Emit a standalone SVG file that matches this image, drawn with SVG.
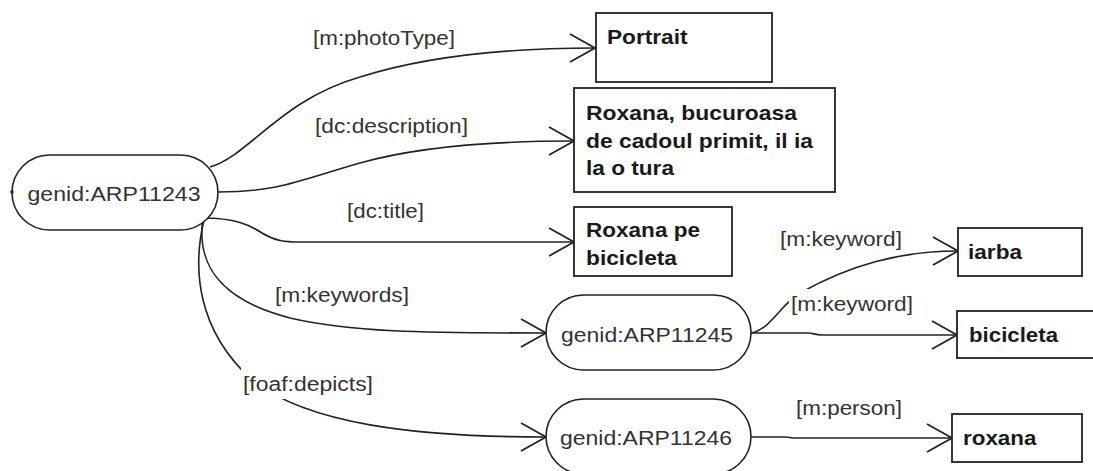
<svg xmlns="http://www.w3.org/2000/svg" width="1093" height="471" viewBox="0 0 1093 471">
  <style>
    .res { fill: #ffffff; stroke: #222222; stroke-width: 1.6; }
    .lit { fill: #ffffff; stroke: #222222; stroke-width: 1.8; }
    .res-t { font-family: "Liberation Sans", Arial, sans-serif; font-size: 20px; fill: #333333; }
    .lit-t { font-family: "Liberation Sans", Arial, sans-serif; font-size: 20.5px; font-weight: bold; fill: #1a1a1a; }
    .edge { fill: none; stroke: #222222; stroke-width: 1.6; marker-end: url(#open-arrow); }
    .lbl { font-family: "Liberation Sans", Arial, sans-serif; font-size: 20px; fill: #333333; }
    .lbl-bg { fill: #ffffff; stroke: none; }
    .port { fill: #222222; }
  </style>
  <defs>
    <marker id="open-arrow" markerUnits="userSpaceOnUse" markerWidth="40" markerHeight="40" refX="0" refY="0" viewBox="-30 -20 40 40" orient="auto" overflow="visible">
      <path d="M-25,-14 L0,0 L-25,14" fill="none" stroke="#222222" stroke-width="1.8"/>
    </marker>
  </defs>

  <rect width="1093" height="471" fill="#ffffff"/>

  <!-- connectors -->
  <g id="connectors">
    <path class="edge" d="M210,167 C250,155 280,100 360,77 C420,58 500,48 595,48"/>
    <path class="edge" d="M218,192 C280,192 300,180 360,163 C420,146 500,141 574,141"/>
    <path class="edge" d="M203,218 C235,218 250,225 262,233 C275,241 285,242 300,242 L574,242"/>
    <path class="edge" d="M203,218 C196,265 220,300 290,318 C350,332 420,333 546,333"/>
    <path class="edge" d="M204,220 C192,270 198,330 250,378 C305,425 420,437 546,437"/>
    <path class="edge" d="M751,333 C770,330 780,305 800,293 C850,265 900,251 958,251"/>
    <path class="edge" d="M751,333 L808,333 C814,333 814,335 822,335 L957,335"/>
    <path class="edge" d="M751,437 L786,437 C790,437 790,438 796,438 L952,438"/>

    <!-- predicate labels -->
    <g id="edge-labels">
      <rect class="lbl-bg" x="241" y="368" width="134" height="31"/>
      <rect class="lbl-bg" x="789" y="289" width="126" height="28"/>
      <text class="lbl" x="313" y="45" textLength="142" lengthAdjust="spacingAndGlyphs">[m:photoType]</text>
      <text class="lbl" x="315" y="133" textLength="153" lengthAdjust="spacingAndGlyphs">[dc:description]</text>
      <text class="lbl" x="347" y="217.5" textLength="77" lengthAdjust="spacingAndGlyphs">[dc:title]</text>
      <text class="lbl" x="275" y="302" textLength="134" lengthAdjust="spacingAndGlyphs">[m:keywords]</text>
      <text class="lbl" x="243" y="391" textLength="130" lengthAdjust="spacingAndGlyphs">[foaf:depicts]</text>
      <text class="lbl" x="780" y="246" textLength="122" lengthAdjust="spacingAndGlyphs">[m:keyword]</text>
      <text class="lbl" x="791" y="310.5" textLength="122" lengthAdjust="spacingAndGlyphs">[m:keyword]</text>
      <text class="lbl" x="796" y="415" textLength="106" lengthAdjust="spacingAndGlyphs">[m:person]</text>
    </g>
  </g>

  <!-- resource nodes -->
  <g id="node-arp11243">
    <rect class="res" x="12" y="155" width="206" height="75" rx="37.5" ry="37.5"/>
    <rect class="port" x="10.5" y="190.5" width="3" height="3"/>
    <text class="res-t" x="27.5" y="201" textLength="173" lengthAdjust="spacingAndGlyphs">genid:ARP11243</text>
  </g>
  <g id="node-arp11245">
    <rect class="res" x="546" y="295" width="205" height="75" rx="37.5" ry="37.5"/>
    <text class="res-t" x="561" y="342" textLength="172" lengthAdjust="spacingAndGlyphs">genid:ARP11245</text>
  </g>
  <g id="node-arp11246">
    <rect class="res" x="546" y="399" width="205" height="75" rx="37.5" ry="37.5"/>
    <text class="res-t" x="560" y="445" textLength="172" lengthAdjust="spacingAndGlyphs">genid:ARP11246</text>
  </g>

  <!-- literal nodes -->
  <g id="node-portrait">
    <rect class="lit" x="596" y="13" width="176" height="69"/>
    <text class="lit-t" x="607" y="44" textLength="80.5" lengthAdjust="spacingAndGlyphs">Portrait</text>
  </g>
  <g id="node-description">
    <rect class="lit" x="574" y="88" width="261" height="104"/>
    <text class="lit-t" x="586" y="120" textLength="211" lengthAdjust="spacingAndGlyphs">Roxana, bucuroasa</text>
    <text class="lit-t" x="586" y="148" textLength="227" lengthAdjust="spacingAndGlyphs">de cadoul primit, il ia</text>
    <text class="lit-t" x="586" y="175" textLength="88" lengthAdjust="spacingAndGlyphs">la o tura</text>
  </g>
  <g id="node-title">
    <rect class="lit" x="574" y="207" width="158" height="69"/>
    <text class="lit-t" x="586" y="237" textLength="114" lengthAdjust="spacingAndGlyphs">Roxana pe</text>
    <text class="lit-t" x="586" y="264.5" textLength="91" lengthAdjust="spacingAndGlyphs">bicicleta</text>
  </g>
  <g id="node-iarba">
    <rect class="lit" x="958" y="228" width="124" height="48"/>
    <text class="lit-t" x="968" y="259" textLength="54" lengthAdjust="spacingAndGlyphs">iarba</text>
  </g>
  <g id="node-bicicleta">
    <rect class="lit" x="957" y="311" width="150" height="47"/>
    <text class="lit-t" x="969" y="342" textLength="89" lengthAdjust="spacingAndGlyphs">bicicleta</text>
  </g>
  <g id="node-roxana">
    <rect class="lit" x="952" y="414" width="130" height="48"/>
    <text class="lit-t" x="963" y="445" textLength="73.5" lengthAdjust="spacingAndGlyphs">roxana</text>
  </g>
</svg>
